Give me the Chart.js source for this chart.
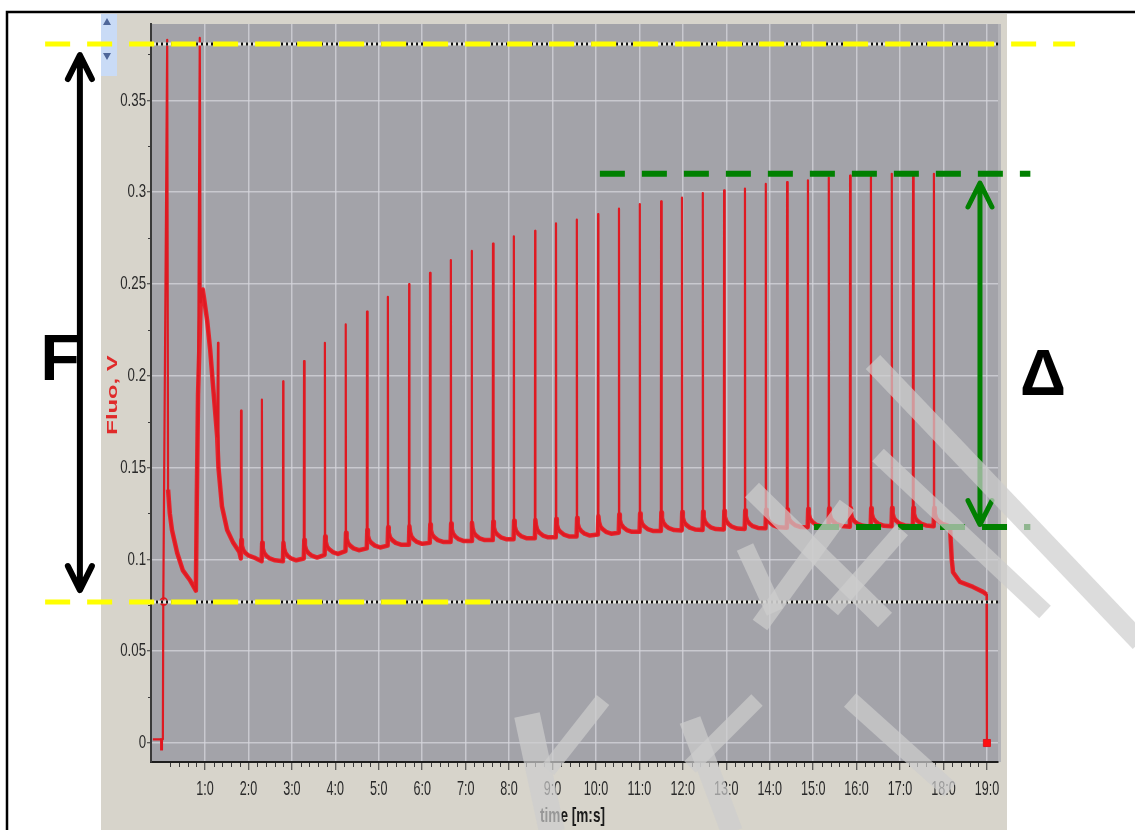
<!DOCTYPE html>
<html>
<head>
<meta charset="utf-8">
<script src="https://cdn.jsdelivr.net/npm/chart.js@4.4.1/dist/chart.umd.min.js"></script>
<style>
    html, body { margin: 0; padding: 0; background: #fff; }
    #wrap { position: relative; width: 1135px; height: 830px; }
    canvas { display: block; }
</style>
</head>
<body>
<div id="wrap"><canvas id="grafico-fluo" width="1135" height="830"></canvas></div>
<script>
// ============================================================
// Fluo, V vs time — traza con pulsos y marcas F / Δ
// ============================================================


// --- 1. DATOS ---

// Ejes
const xTicks      = [1, 2, 3, 4, 5, 6, 7, 8, 9, 10, 11, 12, 13, 14, 15, 16, 17, 18, 19];
const xTickLabels = ['1:0', '2:0', '3:0', '4:0', '5:0', '6:0', '7:0', '8:0', '9:0', '10:0',
                     '11:0', '12:0', '13:0', '14:0', '15:0', '16:0', '17:0', '18:0', '19:0'];
const yTicks      = [0, 0.05, 0.1, 0.15, 0.2, 0.25, 0.3, 0.35];
const yTickLabels = ['0', '0.05', '0.1', '0.15', '0.2', '0.25', '0.3', '0.35'];

// Tramo inicial (tiempo, Fluo V)
const inicioT = [-0.20, 0.03, 0.04, 0.13, 0.15, 0.19, 0.24, 0.36, 0.49, 0.65, 0.79, 0.81, 0.84,
                 0.88, 0.90, 0.95, 1.05, 1.12, 1.18, 1.28, 1.30, 1.31, 1.39, 1.51, 1.65, 1.79];
const inicioV = [0.002, 0.002, 0.077, 0.383, 0.138, 0.125, 0.116, 0.1035, 0.094, 0.0888, 0.083, 0.130, 0.190,
                 0.384, 0.240, 0.247, 0.230, 0.214, 0.196, 0.167, 0.218, 0.150, 0.129, 0.116, 0.109, 0.104];
const inicioPicos = [0, 1, 2, 3, 13, 20];   // puntos del tramo inicial fuera de la línea base

// Pulsos: instante, pico y nivel de base justo antes
const pulsoT    = [1.83, 2.31, 2.80, 3.28, 3.76, 4.24, 4.73, 5.21, 5.70, 6.18, 6.66, 7.14,
                   7.63, 8.11, 8.60, 9.08, 9.56, 10.05, 10.53, 11.01, 11.50, 11.98, 12.46, 12.95,
                   13.43, 13.91, 14.40, 14.88, 15.36, 15.85, 16.33, 16.81, 17.30, 17.78];
const pulsoPico = [0.181, 0.187, 0.197, 0.208, 0.218, 0.228, 0.235, 0.243, 0.250, 0.256, 0.263, 0.268,
                   0.272, 0.276, 0.279, 0.283, 0.285, 0.288, 0.291, 0.2935, 0.295, 0.297, 0.2995, 0.301,
                   0.302, 0.3045, 0.3055, 0.3065, 0.308, 0.309, 0.309, 0.310, 0.309, 0.310];
const pulsoBase = [0.1005, 0.099, 0.099, 0.1005, 0.1025, 0.1045, 0.106, 0.1075, 0.108, 0.109, 0.1095, 0.110,
                   0.1105, 0.111, 0.1115, 0.112, 0.1125, 0.1135, 0.1145, 0.115, 0.1155, 0.1158, 0.116, 0.1163,
                   0.1166, 0.117, 0.1172, 0.1175, 0.1177, 0.1178, 0.1178, 0.118, 0.118, 0.118];

// Cola típica tras cada pulso (desfase en tiempo, exceso sobre la base)
const colaDt = [0.006, 0.02, 0.05, 0.10, 0.18, 0.30];
const colaDv = [0.010, 0.007, 0.0045, 0.003, 0.0015, 0.0005];

// Tramo final
const finT = [18.15, 18.19, 18.22, 18.38, 18.68, 18.91, 18.99, 19.00];
const finV = [0.1178, 0.100, 0.093, 0.0877, 0.085, 0.0823, 0.081, 0.0];

// Marcadores del trazo
const marcaCirculo = [0.05, 0.077];
const marcaFinal   = [19.0, 0.0];
const marcaInicio  = [0.0, -0.0008];

// Niveles de las anotaciones
const nivelF      = [0.0768, 0.3807];  // líneas amarillas
const nivelDelta  = [0.1177, 0.310];   // líneas verdes
const flechaF     = [-1.88, 0.0833, 0.3747];  // x, abajo, arriba
const flechaDelta = [18.84, 0.119, 0.305];


// --- 2. CONSTRUCCIÓN DE LA TRAZA ---
// "puntos" es la traza completa; "banda" la misma sin los flancos de los pulsos
// (la línea base con ruido se ve más gruesa que los pulsos)
const puntos = [];
const banda  = [];
inicioT.forEach((t, i) => {
    puntos.push({ x: t, y: inicioV[i] });
    if (!inicioPicos.includes(i)) banda.push({ x: t, y: inicioV[i] });
});
pulsoT.forEach((t, i) => {
    puntos.push({ x: t - 0.006, y: pulsoBase[i] });
    puntos.push({ x: t, y: pulsoPico[i] });
    banda.push({ x: t - 0.006, y: pulsoBase[i] });
    colaDt.forEach((dt, j) => {
        puntos.push({ x: t + dt, y: pulsoBase[i] + colaDv[j] });
        banda.push({ x: t + dt, y: pulsoBase[i] + colaDv[j] });
    });
});
finT.forEach((t, i) => {
    puntos.push({ x: t, y: finV[i] });
    if (i < finT.length - 1) banda.push({ x: t, y: finV[i] });
});


// --- 3. PLUGINS DE DIBUJO ---
const FUENTE = "'Liberation Sans', Arial, sans-serif";

// Fondo: ventana del programa y área gris del gráfico
const fondo = {
    id: 'fondo',
    beforeDraw(chart) {
        const { ctx, chartArea: a } = chart;
        ctx.save();
        ctx.fillStyle = '#fff';
        ctx.fillRect(0, 0, chart.width, chart.height);
        ctx.fillStyle = '#d7d4cb';
        ctx.fillRect(101, 14, 906, 816);
        ctx.fillStyle = '#b4b4b8';
        ctx.fillRect(a.left, a.top, a.right - a.left + 3, a.bottom - a.top);
        ctx.fillStyle = '#a3a3a9';
        ctx.fillRect(a.left, a.top, a.right - a.left, a.bottom - a.top);

        // barra de desplazamiento
        ctx.fillStyle = '#c9dbf6';
        ctx.fillRect(101, 14, 16, 62);
        ctx.fillStyle = '#4e6699';
        ctx.beginPath();
        ctx.moveTo(103, 25); ctx.lineTo(107, 18); ctx.lineTo(111, 25); ctx.closePath();
        ctx.moveTo(103, 53); ctx.lineTo(107, 60); ctx.lineTo(111, 53); ctx.closePath();
        ctx.fill();
        ctx.restore();
    }
};

// Texto estrecho (las etiquetas del programa son condensadas)
function textoEstrecho(ctx, texto, px, py, alinear, sx, sy, fuente, color) {
    ctx.save();
    ctx.translate(px, py);
    ctx.scale(sx, sy);
    ctx.font = fuente;
    ctx.fillStyle = color;
    ctx.textAlign = alinear;
    ctx.textBaseline = 'middle';
    ctx.fillText(texto, 0, 0);
    ctx.restore();
}

// Marcas menores, etiquetas y títulos de los ejes
const ejes = {
    id: 'ejes',
    afterDraw(chart) {
        const { ctx, chartArea: a, scales: { x, y } } = chart;
        ctx.save();
        ctx.strokeStyle = '#3a3a3a';
        ctx.lineWidth = 1;
        ctx.beginPath();
        for (let i = 1; i <= 95; i++) {
            if (i % 5 === 0) continue;
            const px = Math.round(x.getPixelForValue(i / 5)) + 0.5;
            ctx.moveTo(px, a.bottom + 1);
            ctx.lineTo(px, a.bottom + 5);
        }
        for (let k = 0; k < 8; k++) {
            const py = Math.round(y.getPixelForValue(0.025 + k * 0.05)) + 0.5;
            ctx.moveTo(a.left - 3, py);
            ctx.lineTo(a.left, py);
        }
        ctx.stroke();
        ctx.restore();

        xTicks.forEach((v, i) => {
            textoEstrecho(ctx, xTickLabels[i], x.getPixelForValue(v), a.bottom + 27, 'center', 0.74, 1.2, '17px ' + FUENTE, '#2a2a2a');
        });
        yTicks.forEach((v, i) => {
            textoEstrecho(ctx, yTickLabels[i], a.left - 5, y.getPixelForValue(v), 'right', 0.78, 1.1, '17px ' + FUENTE, '#2a2a2a');
        });

        textoEstrecho(ctx, 'time [m:s]', (a.left + a.right) / 2 - 2, 817, 'center', 0.8, 1.15, 'bold 17px ' + FUENTE, '#1a1a1a');

        // título del eje Y, rotado y ensanchado
        ctx.save();
        ctx.translate(113, 395);
        ctx.rotate(-Math.PI / 2);
        ctx.scale(1.7, 1);
        ctx.fillStyle = '#e02a2a';
        ctx.font = 'bold 14px ' + FUENTE;
        ctx.textAlign = 'center';
        ctx.textBaseline = 'middle';
        ctx.fillText('Fluo, V', 0, 0);
        ctx.restore();
    }
};

// Líneas discontinuas, flechas, letras y marca de agua
function lineaDiscontinua(ctx, x1, x2, py, color, ancho) {
    ctx.save();
    ctx.strokeStyle = color;
    ctx.lineWidth = ancho;
    ctx.setLineDash([25, 17]);
    ctx.beginPath();
    ctx.moveTo(x1, py);
    ctx.lineTo(x2, py);
    ctx.stroke();
    ctx.restore();
}

function lineaPunteada(ctx, x1, x2, py) {
    ctx.save();
    ctx.strokeStyle = '#e9e9e2';
    ctx.lineWidth = 3;
    ctx.beginPath(); ctx.moveTo(x1, py); ctx.lineTo(x2, py); ctx.stroke();
    ctx.strokeStyle = '#111';
    ctx.lineWidth = 3;
    ctx.setLineDash([2, 3]);
    ctx.beginPath(); ctx.moveTo(x1, py); ctx.lineTo(x2, py); ctx.stroke();
    ctx.restore();
}

function flechaDoble(ctx, px, yArriba, yAbajo, color, ancho) {
    ctx.save();
    ctx.strokeStyle = color;
    ctx.lineWidth = ancho;
    ctx.lineCap = 'round';
    ctx.lineJoin = 'round';
    ctx.beginPath();
    ctx.moveTo(px, yArriba + 2);
    ctx.lineTo(px, yAbajo - 2);
    ctx.moveTo(px - 12, yArriba + 24); ctx.lineTo(px, yArriba); ctx.lineTo(px + 12, yArriba + 24);
    ctx.moveTo(px - 12, yAbajo - 24);  ctx.lineTo(px, yAbajo);  ctx.lineTo(px + 12, yAbajo - 24);
    ctx.stroke();
    ctx.restore();
}

// trazos de la marca de agua (coordenadas de página)
const marcaAgua = [
    [873, 362, 1140, 642, 20],
    [878, 455, 1045, 612, 17],
    [752, 490, 885, 620, 20],
    [847, 505, 760, 625, 18],
    [745, 547, 775, 612, 18],
    [902, 530, 832, 610, 16],
    [527, 715, 552, 832, 26],
    [603, 700, 548, 770, 16],
    [690, 720, 732, 832, 22],
    [757, 700, 690, 767, 16],
    [850, 700, 950, 790, 18]
];

const anotaciones = {
    id: 'anotaciones',
    afterDraw(chart) {
        const { ctx, chartArea: a, scales: { x, y } } = chart;

        // líneas de cursor del programa
        lineaPunteada(ctx, a.left, a.right, y.getPixelForValue(nivelF[1]));
        lineaPunteada(ctx, a.left, a.right, y.getPixelForValue(nivelF[0]));

        // F: amarillo
        lineaDiscontinua(ctx, x.getPixelForValue(-2.68), x.getPixelForValue(21.03), y.getPixelForValue(nivelF[1]), '#ffff00', 5);
        lineaDiscontinua(ctx, x.getPixelForValue(-2.68), x.getPixelForValue(7.56), y.getPixelForValue(nivelF[0]), '#ffff00', 5);

        // Δ: verde
        lineaDiscontinua(ctx, x.getPixelForValue(10.09), x.getPixelForValue(20.0), y.getPixelForValue(nivelDelta[1]), '#008000', 6);
        lineaDiscontinua(ctx, x.getPixelForValue(15.02), x.getPixelForValue(20.0), y.getPixelForValue(nivelDelta[0]), '#008000', 6);

        flechaDoble(ctx, x.getPixelForValue(flechaF[0]), y.getPixelForValue(flechaF[2]), y.getPixelForValue(flechaF[1]), '#000', 6);
        flechaDoble(ctx, x.getPixelForValue(flechaDelta[0]), y.getPixelForValue(flechaDelta[2]), y.getPixelForValue(flechaDelta[1]), '#008000', 5);

        ctx.save();
        ctx.fillStyle = '#000';
        ctx.font = 'bold 64px ' + FUENTE;
        ctx.textAlign = 'center';
        ctx.textBaseline = 'middle';
        ctx.fillText('F', 60, 362);
        ctx.fillText('Δ', 1043, 377);
        ctx.restore();

        // marca de agua
        ctx.save();
        ctx.strokeStyle = 'rgba(205, 205, 205, 0.7)';
        marcaAgua.forEach(([x1, y1, x2, y2, w]) => {
            ctx.lineWidth = w;
            ctx.beginPath();
            ctx.moveTo(x1, y1);
            ctx.lineTo(x2, y2);
            ctx.stroke();
        });
        ctx.restore();

        // borde del recuadro
        ctx.save();
        ctx.strokeStyle = '#000';
        ctx.lineWidth = 2.5;
        ctx.beginPath();
        ctx.moveTo(7, 840);
        ctx.lineTo(7, 12);
        ctx.lineTo(1140, 12);
        ctx.stroke();
        ctx.restore();
    }
};


// --- 4. GRÁFICO ---
document.addEventListener('DOMContentLoaded', function() {
    const ctx = document.getElementById('grafico-fluo').getContext('2d');

    new Chart(ctx, {
        type: 'line',
        data: {
            datasets: [
                {
                    label: 'Fluo',
                    data: puntos,
                    borderColor: '#df1a22',
                    borderWidth: 2.2,
                    borderJoinStyle: 'round',
                    pointRadius: 0,
                    tension: 0,
                    order: 2
                },
                {
                    label: 'Fluo base',
                    data: banda,
                    borderColor: 'rgba(238, 22, 30, 0.9)',
                    borderWidth: 4.5,
                    borderJoinStyle: 'round',
                    pointRadius: 0,
                    tension: 0,
                    order: 3
                },
                {
                    label: 'marcas',
                    type: 'scatter',
                    data: [
                        { x: marcaCirculo[0], y: marcaCirculo[1] },
                        { x: marcaFinal[0], y: marcaFinal[1] },
                        { x: marcaInicio[0], y: marcaInicio[1] }
                    ],
                    pointStyle: ['circle', 'rect', 'line'],
                    pointRadius: [3.5, 5, 6],
                    pointRotation: [0, 0, 90],
                    pointBackgroundColor: ['rgba(0,0,0,0)', '#ff1010', '#ff1010'],
                    pointBorderColor: '#e1161e',
                    pointBorderWidth: [1.5, 1, 3],
                    order: 1
                }
            ]
        },
        options: {
            responsive: false,
            animation: false,
            layout: { padding: { left: 101, right: 137, top: 24, bottom: 0 } },
            plugins: { legend: { display: false }, tooltip: { enabled: false } },
            scales: {
                x: {
                    type: 'linear',
                    min: -0.243,
                    max: 19.255,
                    afterFit: s => { s.height = 68; },
                    afterBuildTicks: s => { s.ticks = xTicks.map(v => ({ value: v })); },
                    grid: { color: 'rgba(214, 214, 220, 0.75)', lineWidth: 1.5, tickLength: 8, tickColor: '#333', tickWidth: 1 },
                    border: { display: true, color: '#1e1e1e', width: 2 },
                    ticks: { display: false },
                    title: { display: false }
                },
                y: {
                    type: 'linear',
                    min: -0.01035,
                    max: 0.3916,
                    afterFit: s => { s.width = 50; },
                    afterBuildTicks: s => { s.ticks = yTicks.map(v => ({ value: v })); },
                    grid: { color: 'rgba(214, 214, 220, 0.75)', lineWidth: 1.5, tickLength: 4, tickColor: '#333', tickWidth: 1 },
                    border: { display: true, color: '#3a3a3a', width: 2 },
                    ticks: { display: false }
                }
            }
        },
        plugins: [fondo, ejes, anotaciones]
    });
});
</script>
</body>
</html>
